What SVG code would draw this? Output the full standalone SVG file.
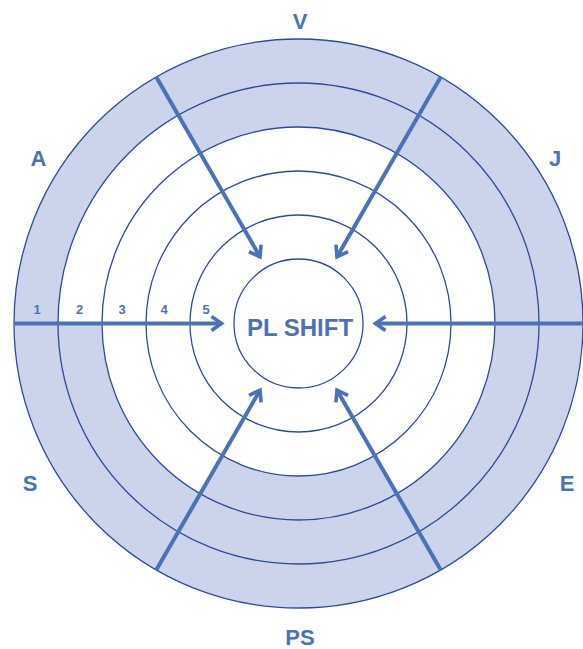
<svg xmlns="http://www.w3.org/2000/svg" width="583" height="649" viewBox="0 0 583 649">
<style>
.ring{fill:none;stroke:#2b4c9c;stroke-width:1.3}
.shade{fill:#cbd4eb;stroke:none}
.white{fill:#ffffff;stroke:none}
.arrow{stroke:#4a72b8;stroke-width:4;fill:none;marker-end:url(#ah)}
.lbl{font-family:"Liberation Sans",Arial,sans-serif;font-weight:bold;fill:#4a72b8;text-anchor:middle}
.big{font-size:22px}
.num{font-size:13px}
.center{font-size:24px}
</style>
<defs>
<marker id="ah" markerUnits="userSpaceOnUse" markerWidth="24" markerHeight="24" viewBox="-14 -12 18 24" refX="0" refY="0" orient="auto" overflow="visible">
<path d="M-10,-7 L0,0 L-10,7" fill="none" stroke="#4a72b8" stroke-width="3.6" stroke-linejoin="miter"/>
</marker>
</defs>
<g id="background">
<circle class="shade" cx="298.5" cy="323.5" r="284.5"/>
<path class="white" d="M178.25,115.22 A240.5,240.5 0 0 0 58,323.5 L102,323.5 A196.5,196.5 0 0 1 200.25,153.33 Z"/>
<circle class="white" cx="298.5" cy="323.5" r="196.5"/>
<path class="shade" d="M200.25,493.67 A196.5,196.5 0 0 0 396.75,493.67 L374.75,455.57 A152.5,152.5 0 0 1 222.25,455.57 Z"/>
</g>
<g id="rings">
<circle class="ring" cx="298.5" cy="323.5" r="284.5"/>
<circle class="ring" cx="298.5" cy="323.5" r="240.5"/>
<circle class="ring" cx="298.5" cy="323.5" r="196.5"/>
<circle class="ring" cx="298.5" cy="323.5" r="152.5"/>
<circle class="ring" cx="298.5" cy="323.5" r="108.5"/>
</g>
<g id="center">
<circle class="ring" cx="298.5" cy="323.5" r="64.5"/>
<text class="lbl center" x="300" y="336">PL SHIFT</text>
</g>
<g id="connectors">
<line class="arrow" x1="14" y1="323.5" x2="221.5" y2="323.5"/>
<line class="arrow" x1="583" y1="323.5" x2="375.5" y2="323.5"/>
<line class="arrow" x1="156.25" y1="77.1" x2="260" y2="256.8"/>
<line class="arrow" x1="440.75" y1="77.1" x2="337" y2="256.8"/>
<line class="arrow" x1="156.25" y1="569.9" x2="260" y2="390.2"/>
<line class="arrow" x1="440.75" y1="569.9" x2="337" y2="390.2"/>
</g>
<g id="scale">
<text class="lbl num" x="37" y="314">1</text>
<text class="lbl num" x="79.5" y="314">2</text>
<text class="lbl num" x="122" y="314">3</text>
<text class="lbl num" x="164" y="314">4</text>
<text class="lbl num" x="206" y="314">5</text>
</g>
<g id="label-V"><text class="lbl big" x="300" y="29">V</text></g>
<g id="label-A"><text class="lbl big" x="38.5" y="166">A</text></g>
<g id="label-J"><text class="lbl big" x="555" y="166">J</text></g>
<g id="label-S"><text class="lbl big" x="30" y="491">S</text></g>
<g id="label-E"><text class="lbl big" x="567" y="491">E</text></g>
<g id="label-PS"><text class="lbl big" x="300" y="645">PS</text></g>
</svg>
